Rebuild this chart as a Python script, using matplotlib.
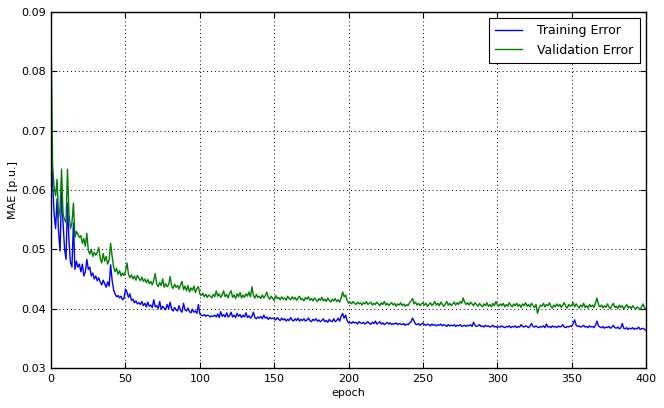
import matplotlib

matplotlib.use("Agg")
import matplotlib.pyplot as plt
import numpy as np

# MAE values, in units of 1e-4 p.u., one per epoch (0..400)
TRAIN_ERR = [
    690, 610, 560, 535, 585, 530, 497, 597, 545, 502,
    483, 578, 515, 478, 470, 544, 466, 480, 470, 475,
    462, 475, 455, 462, 483, 466, 470, 455, 460, 450,
    455, 447, 452, 445, 440, 448, 442, 436, 445, 438,
    474, 448, 432, 425, 420, 422, 418, 421, 415, 417,
    433, 428, 419, 425, 414, 416, 410, 413, 408, 410,
    407, 412, 405, 409, 403, 411, 404, 406, 402, 415,
    403, 405, 400, 412, 399, 404, 401, 398, 407, 400,
    411, 399, 396, 402, 398, 396, 405, 397, 394, 409,
    398, 396, 401, 395, 393, 399, 394, 396, 392, 407,
    391, 389, 388, 390, 387, 389, 388, 386, 388, 387,
    389, 386, 391, 385, 395, 387, 390, 386, 393, 386,
    388, 394, 386, 389, 385, 392, 387, 390, 385, 389,
    386, 393, 385, 388, 384, 387, 394, 385, 383, 386,
    384, 387, 383, 389, 384, 386, 382, 385, 383, 384,
    383, 381, 385, 382, 380, 384, 381, 383, 379, 382,
    380, 385, 381, 379, 383, 380, 384, 379, 382, 380,
    383, 379, 381, 384, 380, 378, 382, 380, 383, 379,
    381, 378, 380, 383, 378, 380, 377, 382, 379, 378,
    383, 378, 380, 384, 379, 387, 392, 384, 389, 380,
    376, 377, 375, 378, 376, 377, 374, 378, 376, 375,
    377, 374, 376, 378, 375, 374, 377, 375, 379, 374,
    376, 378, 374, 376, 373, 375, 377, 374, 376, 373,
    375, 374, 376, 373, 375, 374, 373, 375, 372, 374,
    373, 376, 378, 384, 379, 374, 373, 375, 372, 374,
    376, 373, 372, 374, 373, 371, 374, 372, 373, 371,
    373, 372, 374, 371, 373, 372, 370, 373, 371, 372,
    371, 373, 370, 372, 371, 373, 370, 371, 372, 370,
    372, 371, 373, 370, 377, 372, 370, 371, 373, 370,
    371, 369, 372, 370, 371, 369, 370, 372, 369, 370,
    368, 370, 369, 371, 369, 368, 370, 369, 371, 368,
    370, 369, 371, 368, 370, 369, 373, 370, 369, 371,
    370, 368, 371, 375, 370, 369, 371, 369, 368, 370,
    369, 371, 368, 374, 369, 370, 368, 371, 369, 370,
    368, 371, 369, 370, 373, 369, 368, 370, 369, 371,
    370, 375, 381, 372, 370, 371, 369, 370, 372, 369,
    370, 368, 371, 369, 370, 368, 372, 379, 371, 369,
    368, 370, 367, 369, 368, 370, 367, 369, 372, 368,
    367, 369, 366, 368, 375, 367, 366, 368, 365, 367,
    366, 368, 365, 367, 366, 369, 365, 366, 367, 365,
    363,
]

VAL_ERR = [
    855, 640, 605, 590, 618, 553, 570, 635, 560, 550,
    545, 635, 560, 535, 545, 578, 520, 530, 525, 520,
    523, 510, 518, 505, 527, 498, 492, 500, 488, 495,
    490, 495, 503, 485, 477, 493, 480, 488, 475, 482,
    510, 488, 470, 462, 468, 458, 464, 455, 460, 456,
    463, 477, 458, 452, 457, 450, 455, 448, 456, 451,
    447, 453, 446, 450, 444, 449, 442, 446, 440, 448,
    459, 441, 437, 444, 439, 450, 436, 442, 437, 440,
    454, 438, 434, 441, 436, 439, 433, 440, 446, 432,
    438, 430, 439, 428, 435, 431, 438, 427, 434, 437,
    425, 422, 426, 420, 424, 419, 423, 421, 418, 424,
    420, 430, 421, 425, 419, 423, 430, 420, 424, 418,
    426, 430, 419, 423, 417, 425, 420, 427, 418, 423,
    419, 425, 421, 428, 420, 437, 422, 418, 424, 419,
    421, 417, 423, 418, 422, 428, 419, 416, 421, 417,
    414, 422, 417, 419, 415, 420, 416, 418, 414, 421,
    417, 415, 420, 416, 419, 414, 418, 421, 415, 417,
    413, 419, 416, 420, 414, 417, 413, 418, 415, 412,
    417, 414, 419, 413, 416, 412, 418, 414, 411, 416,
    413, 417, 412, 415, 411, 418, 428, 420, 423, 414,
    409, 411, 408, 412, 409, 407, 411, 408, 410, 406,
    410, 408, 412, 407, 409, 411, 406, 409, 407, 411,
    408, 405, 410, 407, 412, 406, 409, 405, 408, 410,
    406, 409, 404, 408, 406, 410, 405, 408, 404, 407,
    405, 410, 413, 417, 408, 411, 406, 409, 405, 408,
    410, 406, 409, 404, 407, 410, 405, 408, 412, 406,
    409, 405, 411, 407, 404, 408, 412, 406, 409, 405,
    408, 411, 406, 410, 407, 412, 409, 418, 411, 407,
    410, 406, 411, 408, 405, 410, 407, 404, 409, 406,
    403, 408, 405, 410, 404, 407, 403, 409, 405, 412,
    407, 404, 408, 405, 409, 403, 407, 404, 410, 406,
    403, 408, 405, 409, 404, 407, 402, 408, 405, 410,
    404, 407, 403, 409, 405, 402, 407, 392, 401, 406,
    404, 409, 403, 407, 405, 410, 404, 401, 406, 403,
    408, 404, 407, 402, 406, 410, 404, 401, 407, 404,
    406, 410, 403, 408, 404, 401, 406, 403, 409, 402,
    405, 401, 407, 403, 406, 402, 410, 418, 407, 403,
    406, 401, 405, 402, 408, 403, 400, 405, 409, 402,
    404, 400, 406, 402, 405, 399, 403, 407, 401, 404,
    400, 405, 402, 399, 403, 401, 398, 403, 408, 401,
    400,
]

SERIES_LABELS = ["Training Error", "Validation Error"]
X_TICKS = [0, 50, 100, 150, 200, 250, 300, 350, 400]
Y_TICKS = [0.03, 0.04, 0.05, 0.06, 0.07, 0.08, 0.09]


def main() -> None:
    plt.rcParams["font.family"] = ["DejaVu Sans"]
    plt.rcParams["font.size"] = 8

    train = np.array(TRAIN_ERR) * 1e-4
    val = np.array(VAL_ERR) * 1e-4
    epochs = np.arange(len(train))

    fig = plt.figure(figsize=(6.64, 4.08), dpi=100)
    ax = fig.add_axes([0.077, 0.098, 0.896, 0.873])
    ax.plot(epochs, train, color="b", linewidth=1.0, label=SERIES_LABELS[0])
    ax.plot(epochs, val, color="g", linewidth=1.0, label=SERIES_LABELS[1])

    ax.set_xlim(0, 400)
    ax.set_ylim(0.03, 0.09)
    ax.set_xticks(X_TICKS)
    ax.set_yticks(Y_TICKS)
    ax.set_yticklabels([f"{v:.2f}" for v in Y_TICKS])
    ax.tick_params(direction="in", top=True, right=True, length=4, width=0.8, labelsize=8, pad=4)
    ax.grid(True, color="black", linestyle=(0, (1, 3)), linewidth=0.7)
    for spine in ax.spines.values():
        spine.set_linewidth(1.0)

    ax.set_xlabel("epoch", fontsize=8, labelpad=3)
    ax.set_ylabel("MAE [p.u.]", fontsize=8, labelpad=2)

    leg = ax.legend(loc="upper right", fancybox=False, framealpha=1.0, edgecolor="black",
                    fontsize=9, handlelength=2.2, handletextpad=1.2, borderpad=0.5)
    leg.get_frame().set_linewidth(0.8)

    fig.savefig("out.png", dpi=100)
    plt.close(fig)


if __name__ == "__main__":
    main()
